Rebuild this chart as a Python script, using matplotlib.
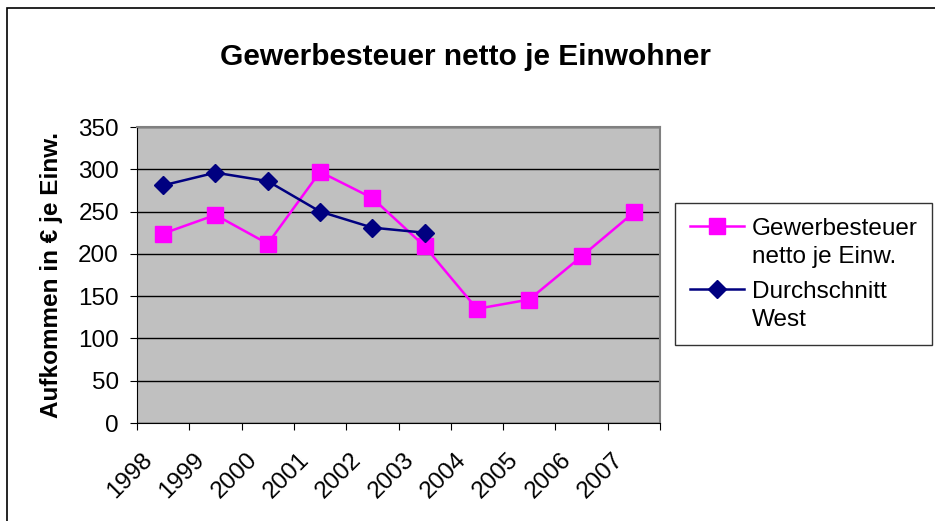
import matplotlib.pyplot as plt
from matplotlib.patches import Rectangle
from matplotlib.ticker import FixedLocator
from matplotlib.transforms import ScaledTranslation

plt.rcParams['font.family'] = ['Liberation Sans', 'DejaVu Sans']

jahre = ["1998", "1999", "2000", "2001", "2002", "2003", "2004", "2005", "2006", "2007"]
gewerbesteuer = [224, 246, 212, 297, 266, 209, 135, 146, 197, 249]
west_jahre = ["1998", "1999", "2000", "2001", "2002", "2003"]
durchschnitt_west = [281, 296, 286, 250, 231, 225]

fig = plt.figure(figsize=(9.35, 5.21), dpi=100)
fig.patches.append(Rectangle((7 / 935, -0.1), 1.2, 1 - 8 / 521 + 0.1, transform=fig.transFigure,
                             fill=False, edgecolor='black', linewidth=1.2))

ax = fig.add_axes([137 / 935, 98 / 521, 523 / 935, 296 / 521])
ax.set_facecolor('#C0C0C0')

x = list(range(len(jahre)))
xw = [jahre.index(j) for j in west_jahre]
ax.plot(x, gewerbesteuer, color='#FF00FF', linewidth=1.8, marker='s', markersize=11,
        label="Gewerbesteuer\nnetto je Einw.", zorder=3)
ax.plot(xw, durchschnitt_west, color='#000080', linewidth=1.8, marker='D', markersize=9.5,
        label="Durchschnitt\nWest", zorder=4)

ax.set_xlim(-0.5, len(jahre) - 0.5)
ax.set_ylim(0, 350)
ax.set_yticks(range(0, 351, 50))
ax.yaxis.grid(True, color='black', linewidth=1)
ax.set_axisbelow(True)

ax.xaxis.set_major_locator(FixedLocator([i - 0.5 for i in range(len(jahre) + 1)]))
ax.xaxis.set_major_formatter(plt.NullFormatter())
ax.set_xticks(x, minor=True)
ax.set_xticklabels(jahre, minor=True, rotation=45, ha='right', va='center',
                   rotation_mode='anchor', fontsize=17.5)
ax.tick_params(axis='x', which='minor', length=0, pad=24)
ax.tick_params(axis='x', which='major', length=5, direction='out', color='black')
ax.tick_params(axis='y', length=5, labelsize=17.5, pad=8)
shift = ScaledTranslation(-14 / 100, 0, fig.dpi_scale_trans)
for lbl in ax.get_xticklabels(minor=True):
    lbl.set_transform(lbl.get_transform() + shift)

for s in ['top', 'right']:
    ax.spines[s].set_color('#808080')
    ax.spines[s].set_linewidth(1.5)
for s in ['left', 'bottom']:
    ax.spines[s].set_color('black')

ax.set_ylabel("Aufkommen in € je Einw.", fontsize=17.5, fontweight='bold', labelpad=11)
fig.text(465 / 935, 1 - 57 / 521, "Gewerbesteuer netto je Einwohner", ha='center', va='center',
         fontsize=21.5, fontweight='bold')

leg = fig.legend(loc='upper left', bbox_to_anchor=(675 / 935, 1 - 203 / 521), fontsize=17.5,
                 frameon=True, fancybox=False, edgecolor='black', handlelength=2.25,
                 borderpad=0.6, labelspacing=0.55, handletextpad=0.3, borderaxespad=0)
leg.get_frame().set_linewidth(1)
for t in leg.get_texts():
    t.set_linespacing(1.35)
# handles sit on the first text line, like in Excel
for col in leg._legend_handle_box.get_children():
    for row in col.get_children():
        row.align = 'top'

fig.savefig("out.png", dpi=100)
